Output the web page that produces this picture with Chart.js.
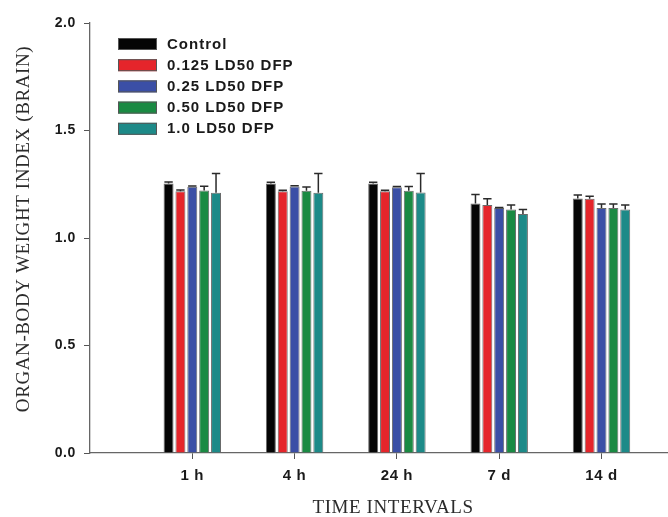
<!DOCTYPE html>
<html>
<head>
<meta charset="utf-8">
<script src="https://cdn.jsdelivr.net/npm/chart.js@4"></script>
<style>
html,body{margin:0;padding:0;background:#fff;}
#wrap{width:668px;height:517px;position:relative;}
</style>
</head>
<body>
<div id="wrap"><canvas id="c" width="668" height="517"></canvas></div>
<script>
// ---- data ----
const categories = ['1 h', '4 h', '24 h', '7 d', '14 d'];
const seriesNames = ['Control', '0.125 LD50 DFP', '0.25 LD50 DFP', '0.50 LD50 DFP', '1.0 LD50 DFP'];
const control   = [1.254, 1.254, 1.254, 1.161, 1.184];
const ld0125    = [1.218, 1.217, 1.217, 1.154, 1.182];
const ld025     = [1.238, 1.239, 1.236, 1.140, 1.140];
const ld050     = [1.221, 1.220, 1.220, 1.132, 1.140];
const ld100     = [1.211, 1.211, 1.212, 1.112, 1.132];
// upper error (SE) for each series
const errControl = [0.006, 0.005, 0.005, 0.041, 0.016];
const errLd0125  = [0.005, 0.005, 0.005, 0.028, 0.012];
const errLd025   = [0.004, 0.004, 0.004, 0.002, 0.018];
const errLd050   = [0.020, 0.017, 0.019, 0.022, 0.018];
const errLd100   = [0.089, 0.089, 0.088, 0.021, 0.022];
const yTicks = [0.0, 0.5, 1.0, 1.5, 2.0];

const colors = ['#050505', '#e5252b', '#3b4fa6', '#1a8a43', '#1d8a88'];
const values = [control, ld0125, ld025, ld050, ld100];
const errors = [errControl, errLd0125, errLd025, errLd050, errLd100];

const datasets = seriesNames.map((name, i) => ({
  label: name,
  data: values[i].map((v, j) => ({x: j + 1, y: v})),
  errs: errors[i],
  backgroundColor: colors[i],
  borderColor: '#6a6a6a',
  borderWidth: 1,
  categoryPercentage: 0.58,
  barPercentage: 0.84
}));

const spacingPlugin = {
  id: 'spacing',
  beforeLayout(chart) { chart.ctx.letterSpacing = '0.6px'; },
  beforeDraw(chart) { chart.ctx.letterSpacing = '0.6px'; }
};

const errorBarPlugin = {
  id: 'errorBars',
  afterDatasetsDraw(chart) {
    const ctx = chart.ctx;
    const y = chart.scales.y;
    ctx.save();
    ctx.strokeStyle = '#2a2a2a';
    ctx.lineWidth = 1.5;
    chart.data.datasets.forEach((ds, di) => {
      const meta = chart.getDatasetMeta(di);
      meta.data.forEach((bar, j) => {
        const v = ds.data[j].y;
        const top = y.getPixelForValue(v + ds.errs[j]);
        const base = y.getPixelForValue(v);
        const cx = bar.x;
        const hw = bar.width * 0.42;
        ctx.beginPath();
        ctx.moveTo(cx, base);
        ctx.lineTo(cx, top);
        ctx.moveTo(cx - hw, top);
        ctx.lineTo(cx + hw, top);
        ctx.stroke();
      });
    });
    ctx.restore();
  }
};

const legendAndTitles = {
  id: 'legendTitles',
  afterDraw(chart) {
    const ctx = chart.ctx;
    ctx.save();
    // legend inside plot
    const x0 = 118, y0 = 44, gap = 21.2;
    ctx.font = 'bold 15px "Liberation Sans", Arial, sans-serif';
    ctx.letterSpacing = '1px';
    ctx.textBaseline = 'middle';
    ctx.textAlign = 'left';
    chart.data.datasets.forEach((ds, i) => {
      const yy = y0 + i * gap;
      ctx.fillStyle = ds.backgroundColor;
      ctx.fillRect(x0, yy - 6, 39, 12);
      ctx.strokeStyle = '#555';
      ctx.lineWidth = 1;
      ctx.strokeRect(x0 + 0.5, yy - 5.5, 38, 11);
      ctx.fillStyle = '#1a1a1a';
      ctx.fillText(ds.label, 167, yy + 0.5);
    });
    // axis titles
    ctx.fillStyle = '#2b2b2b';
    ctx.font = '19px "Liberation Serif", "Times New Roman", serif';
    ctx.letterSpacing = '0.6px';
    ctx.textAlign = 'center';
    ctx.fillText('TIME INTERVALS', 393, 508.5);
    ctx.translate(24, 229);
    ctx.rotate(-Math.PI / 2);
    ctx.fillText('ORGAN-BODY WEIGHT INDEX (BRAIN)', 0, 0);
    ctx.restore();
  }
};

new Chart(document.getElementById('c'), {
  type: 'bar',
  data: { datasets },
  options: {
    responsive: false,
    animation: false,
    layout: { padding: { top: 23, right: 0, left: 0, bottom: 0 } },
    plugins: { legend: { display: false }, tooltip: { enabled: false } },
    scales: {
      x: {
        type: 'linear',
        min: 0,
        max: 5.65,
        offset: false,
        afterBuildTicks: (axis) => { axis.ticks = categories.map((c, i) => ({ value: i + 1 })); },
        afterFit: (axis) => { axis.height = 64; },
        ticks: {
          autoSkip: false,
          maxRotation: 0,
          padding: 8,
          color: '#1a1a1a',
          font: { family: '"Liberation Sans", Arial, sans-serif', size: 15, weight: 'bold' },
          callback: (v) => categories[Math.round(v) - 1] || ''
        },
        grid: { offset: false, drawOnChartArea: false, drawTicks: true, tickLength: 6, tickColor: '#555', color: '#555' },
        border: { display: true, color: '#666', width: 1.3 }
      },
      y: {
        min: 0,
        max: 2,
        afterBuildTicks: (axis) => { axis.ticks = yTicks.map(v => ({ value: v })); },
        afterFit: (axis) => { axis.width = 90; },
        ticks: {
          padding: 8,
          color: '#1a1a1a',
          font: { family: '"Liberation Sans", Arial, sans-serif', size: 14, weight: 'bold' },
          callback: (v) => v.toFixed(1)
        },
        grid: { drawOnChartArea: false, drawTicks: true, tickLength: 6, tickColor: '#555', color: '#555' },
        border: { display: true, color: '#666', width: 1.3 }
      }
    }
  },
  plugins: [spacingPlugin, errorBarPlugin, legendAndTitles]
});
</script>
</body>
</html>
